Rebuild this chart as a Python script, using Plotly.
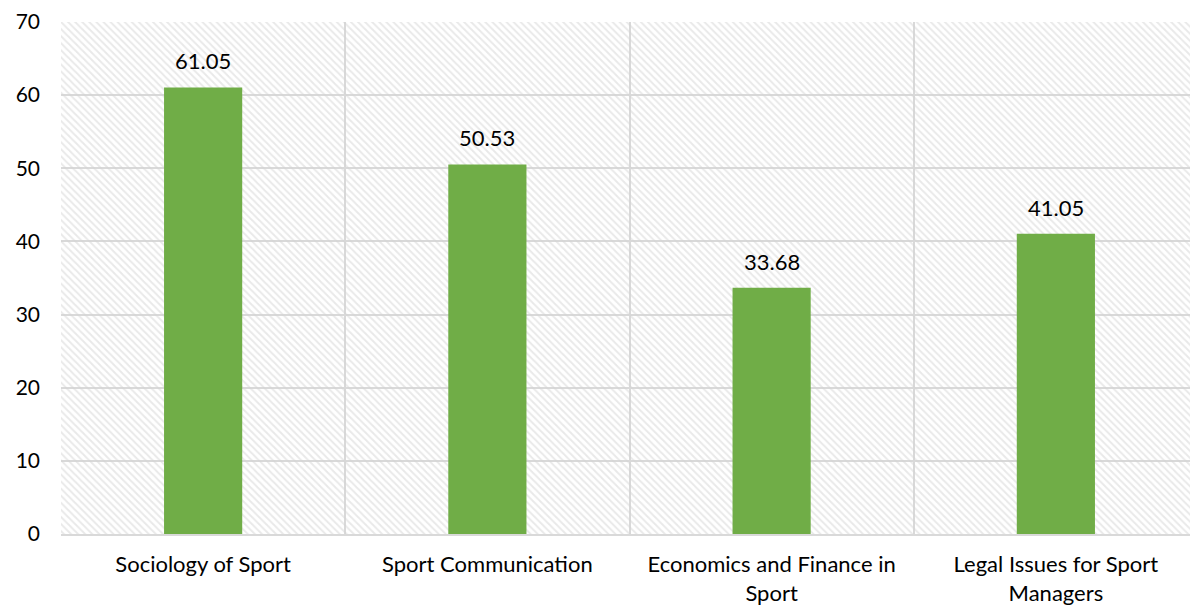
import plotly.graph_objects as go

categories = ["Sociology of Sport", "Sport Communication",
              "Economics and Finance in<br>Sport", "Legal Issues for Sport<br>Managers"]
values = [61.05, 50.53, 33.68, 41.05]
y_ticks = [0, 10, 20, 30, 40, 50, 60, 70]
y_max = 70

FONT = "Lato"
fig = go.Figure()

# hatched plot-area background (one full-width bar per category, up to axis max)
fig.add_trace(go.Bar(
    x=categories, y=[y_max] * len(categories), width=1,
    marker=dict(color="rgba(0,0,0,0)", line=dict(width=0),
                pattern=dict(shape="\\", fgcolor="#d4d4d4", bgcolor="rgba(0,0,0,0)",
                             size=5, solidity=0.4, fillmode="overlay")),
    hoverinfo="skip", showlegend=False))

fig.add_trace(go.Bar(
    x=categories, y=values, width=0.275,
    marker=dict(color="#70ad47", line=dict(width=0)),
    showlegend=False))

for c, v in zip(categories, values):
    fig.add_annotation(x=c, y=v, text=f"{v:.2f}", showarrow=False,
                       yanchor="bottom", yshift=11,
                       font=dict(family=FONT, size=22, color="#000000"))

fig.update_layout(
    width=1190, height=598,
    margin=dict(l=53, r=0, t=14, b=72),
    barmode="overlay",
    paper_bgcolor="white", plot_bgcolor="white",
    font=dict(family=FONT, size=22, color="#000000"),
    xaxis=dict(showgrid=True, gridcolor="#d9d9d9", gridwidth=2, tickson="boundaries",
               ticks="", showline=True, linecolor="#d9d9d9", linewidth=2,
               tickfont=dict(family=FONT, size=22, color="#000000"),
               ticklabelstandoff=10, range=[-0.5, 3.5]),
    yaxis=dict(range=[0, y_max], tickvals=y_ticks, showgrid=True, gridcolor="#d9d9d9",
               gridwidth=2, zeroline=False, ticks="", showline=False,
               tickfont=dict(family=FONT, size=21, color="#000000"),
               ticklabelstandoff=20),
)

fig.write_html("out.html")
